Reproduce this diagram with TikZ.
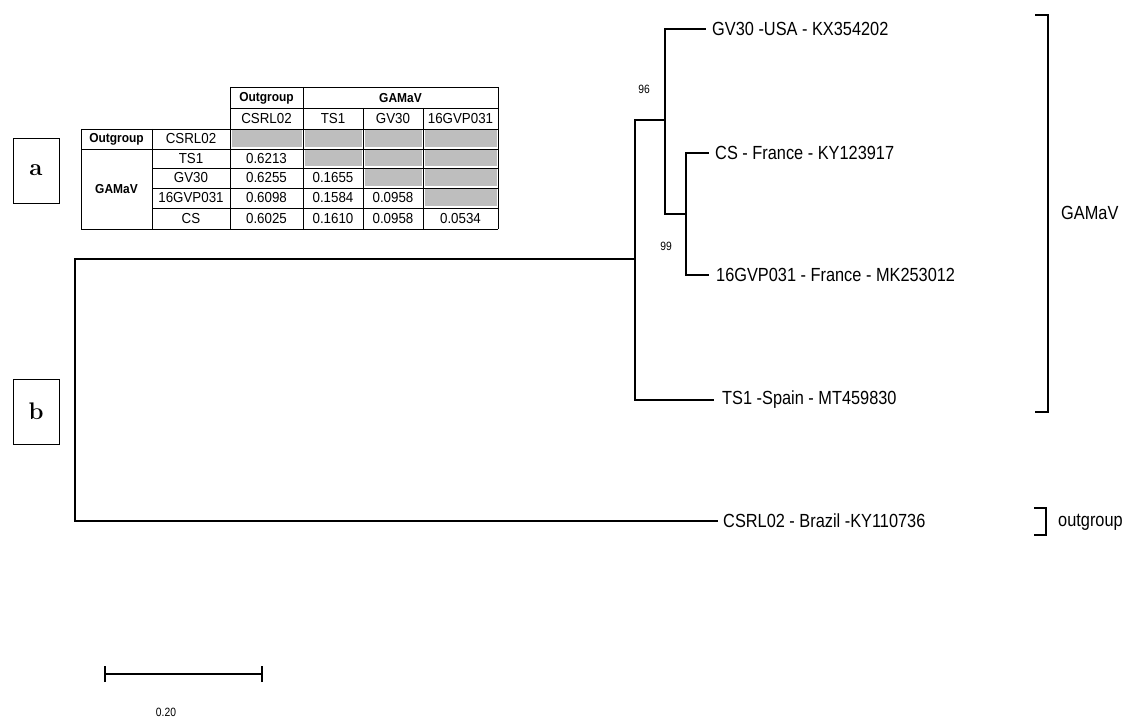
\documentclass[tikz,border=0pt]{standalone}
\usepackage{fontspec}
\newfontfamily\treefont[FakeStretch=0.86]{Liberation Sans}
\newfontfamily\tabfont[FakeStretch=0.92]{Liberation Sans}
\definecolor{cellgrey}{HTML}{BEBEBE}
\tikzset{
  branch/.style={line width=2pt, line cap=rect},
  leaf/.style={anchor=west, inner sep=0pt, font=\treefont\fontsize{19}{22}\selectfont},
  boot/.style={inner sep=0pt, font=\treefont\fontsize{12}{14}\selectfont},
  grid/.style={line width=0.8pt},
  tcell/.style={inner sep=0pt, font=\tabfont\fontsize{14.5}{16}\selectfont},
  thead/.style={inner sep=0pt, font=\tabfont\bfseries\fontsize{13}{15}\selectfont},
  greycell/.style={fill=cellgrey},
  panelbox/.style={draw, line width=0.9pt, minimum width=46pt, minimum height=65pt, inner sep=0pt, font=\bfseries\fontsize{24}{27}\selectfont}
}
\begin{document}
\begin{tikzpicture}[x=1pt,y=-1pt]
\useasboundingbox (0,0) rectangle (1125,727);

% ---------- panel labels ----------
\node[panelbox] (pa) at (36,170.5) {a};
\node[panelbox] (pb) at (36,411.5) {b};

% ---------- table ----------
% grey cells
\foreach \xa/\xb/\ya/\yb in {230/303/129/149, 303/363/129/149, 363/423/129/149, 423/498/129/149,
                             303/363/149/168, 363/423/149/168, 423/498/149/168,
                             363/423/168/188, 423/498/168/188,
                             423/498/188/208}
  \fill[greycell] (\xa+1.5,\ya+1.5) rectangle (\xb-1.5,\yb-1.5);
% horizontal rules
\draw[grid] (230,87) -- (498,87);
\draw[grid] (230,108) -- (498,108);
\draw[grid] (81,129) -- (498,129);
\draw[grid] (81,149) -- (498,149);
\draw[grid] (152,168) -- (498,168);
\draw[grid] (152,188) -- (498,188);
\draw[grid] (152,208) -- (498,208);
\draw[grid] (81,229) -- (498,229);
% vertical rules
\draw[grid] (81,129) -- (81,229);
\draw[grid] (152,129) -- (152,229);
\draw[grid] (230,87) -- (230,229);
\draw[grid] (303,87) -- (303,229);
\draw[grid] (363,108) -- (363,229);
\draw[grid] (423,108) -- (423,229);
\draw[grid] (498,87) -- (498,229);
% header texts
\node[thead] (hOut) at (266.5,98) {Outgroup};
\node[thead] (hGam) at (400.5,98) {GAMaV};
\node[tcell] (cCSRL) at (266.5,118.5) {CSRL02};
\node[tcell] (cTS1) at (333,118.5) {TS1};
\node[tcell] (cGV30) at (393,118.5) {GV30};
\node[tcell] (c16) at (460.5,118.5) {16GVP031};
% row headers
\node[thead] (rOut) at (116.5,139) {Outgroup};
\node[thead] (rGam) at (116.5,189) {GAMaV};
\node[tcell] (rCSRL) at (191,139) {CSRL02};
\node[tcell] (rTS1) at (191,158.5) {TS1};
\node[tcell] (rGV30) at (191,178) {GV30};
\node[tcell] (r16) at (191,198) {16GVP031};
\node[tcell] (rCS) at (191,218.5) {CS};
% values
\node[tcell] (v41) at (266.5,158.5) {0.6213};
\node[tcell] (v51) at (266.5,178) {0.6255};
\node[tcell] (v52) at (333,178) {0.1655};
\node[tcell] (v61) at (266.5,198) {0.6098};
\node[tcell] (v62) at (333,198) {0.1584};
\node[tcell] (v63) at (393,198) {0.0958};
\node[tcell] (v71) at (266.5,218.5) {0.6025};
\node[tcell] (v72) at (333,218.5) {0.1610};
\node[tcell] (v73) at (393,218.5) {0.0958};
\node[tcell] (v74) at (460.5,218.5) {0.0534};

% ---------- tree ----------
\coordinate (root) at (75,389.5);
\coordinate (gam) at (635,259);
\coordinate (n96) at (665,120);
\coordinate (n99) at (686,214);

\node[leaf] (lGV30) at (712,29) {GV30 -USA - KX354202};
\node[leaf] (lCS) at (715,153) {CS - France - KY123917};
\node[leaf] (l16) at (716,275) {16GVP031 - France - MK253012};
\node[leaf] (lTS1) at (722,400) {TS1 -Spain - MT459830};
\node[leaf] (lCSRL) at (723,521) {CSRL02 - Brazil -KY110736};

\draw[branch] (root) |- (gam);
\draw[branch] (root) |- ([xshift=-6pt]lCSRL.west);
\draw[branch] (gam) |- (n96);
\draw[branch] (gam) |- ([xshift=-9pt]lTS1.west);
\draw[branch] (n96) |- ([xshift=-7pt]lGV30.west);
\draw[branch] (n96) |- (n99);
\draw[branch] (n99) |- ([xshift=-7pt]lCS.west);
\draw[branch] (n99) |- ([xshift=-8pt]l16.west);

\node[boot] (b96) at (644,89) {96};
\node[boot] (b99) at (666,246) {99};

% ---------- clade brackets ----------
\draw[branch, line cap=butt] (1035,15) -| (1048,412) -- (1035,412);
\node[leaf] (gGam) at (1061,213) {GAMaV};
\draw[branch, line cap=butt] (1034,508) -| (1046,535) -- (1034,535);
\node[leaf] (gOut) at (1058,522) {outgroup};

% ---------- scale bar ----------
\coordinate (sbL) at (105,674);
\coordinate (sbR) at (262,674);
\draw[branch, line cap=butt] (sbL) -- (sbR);
\draw[branch, line cap=butt] ([yshift=-8pt]sbL) -- ([yshift=8pt]sbL);
\draw[branch, line cap=butt] ([yshift=-8pt]sbR) -- ([yshift=8pt]sbR);
\node[boot] (sbT) at (166,712) {0.20};
\end{tikzpicture}
\end{document}
